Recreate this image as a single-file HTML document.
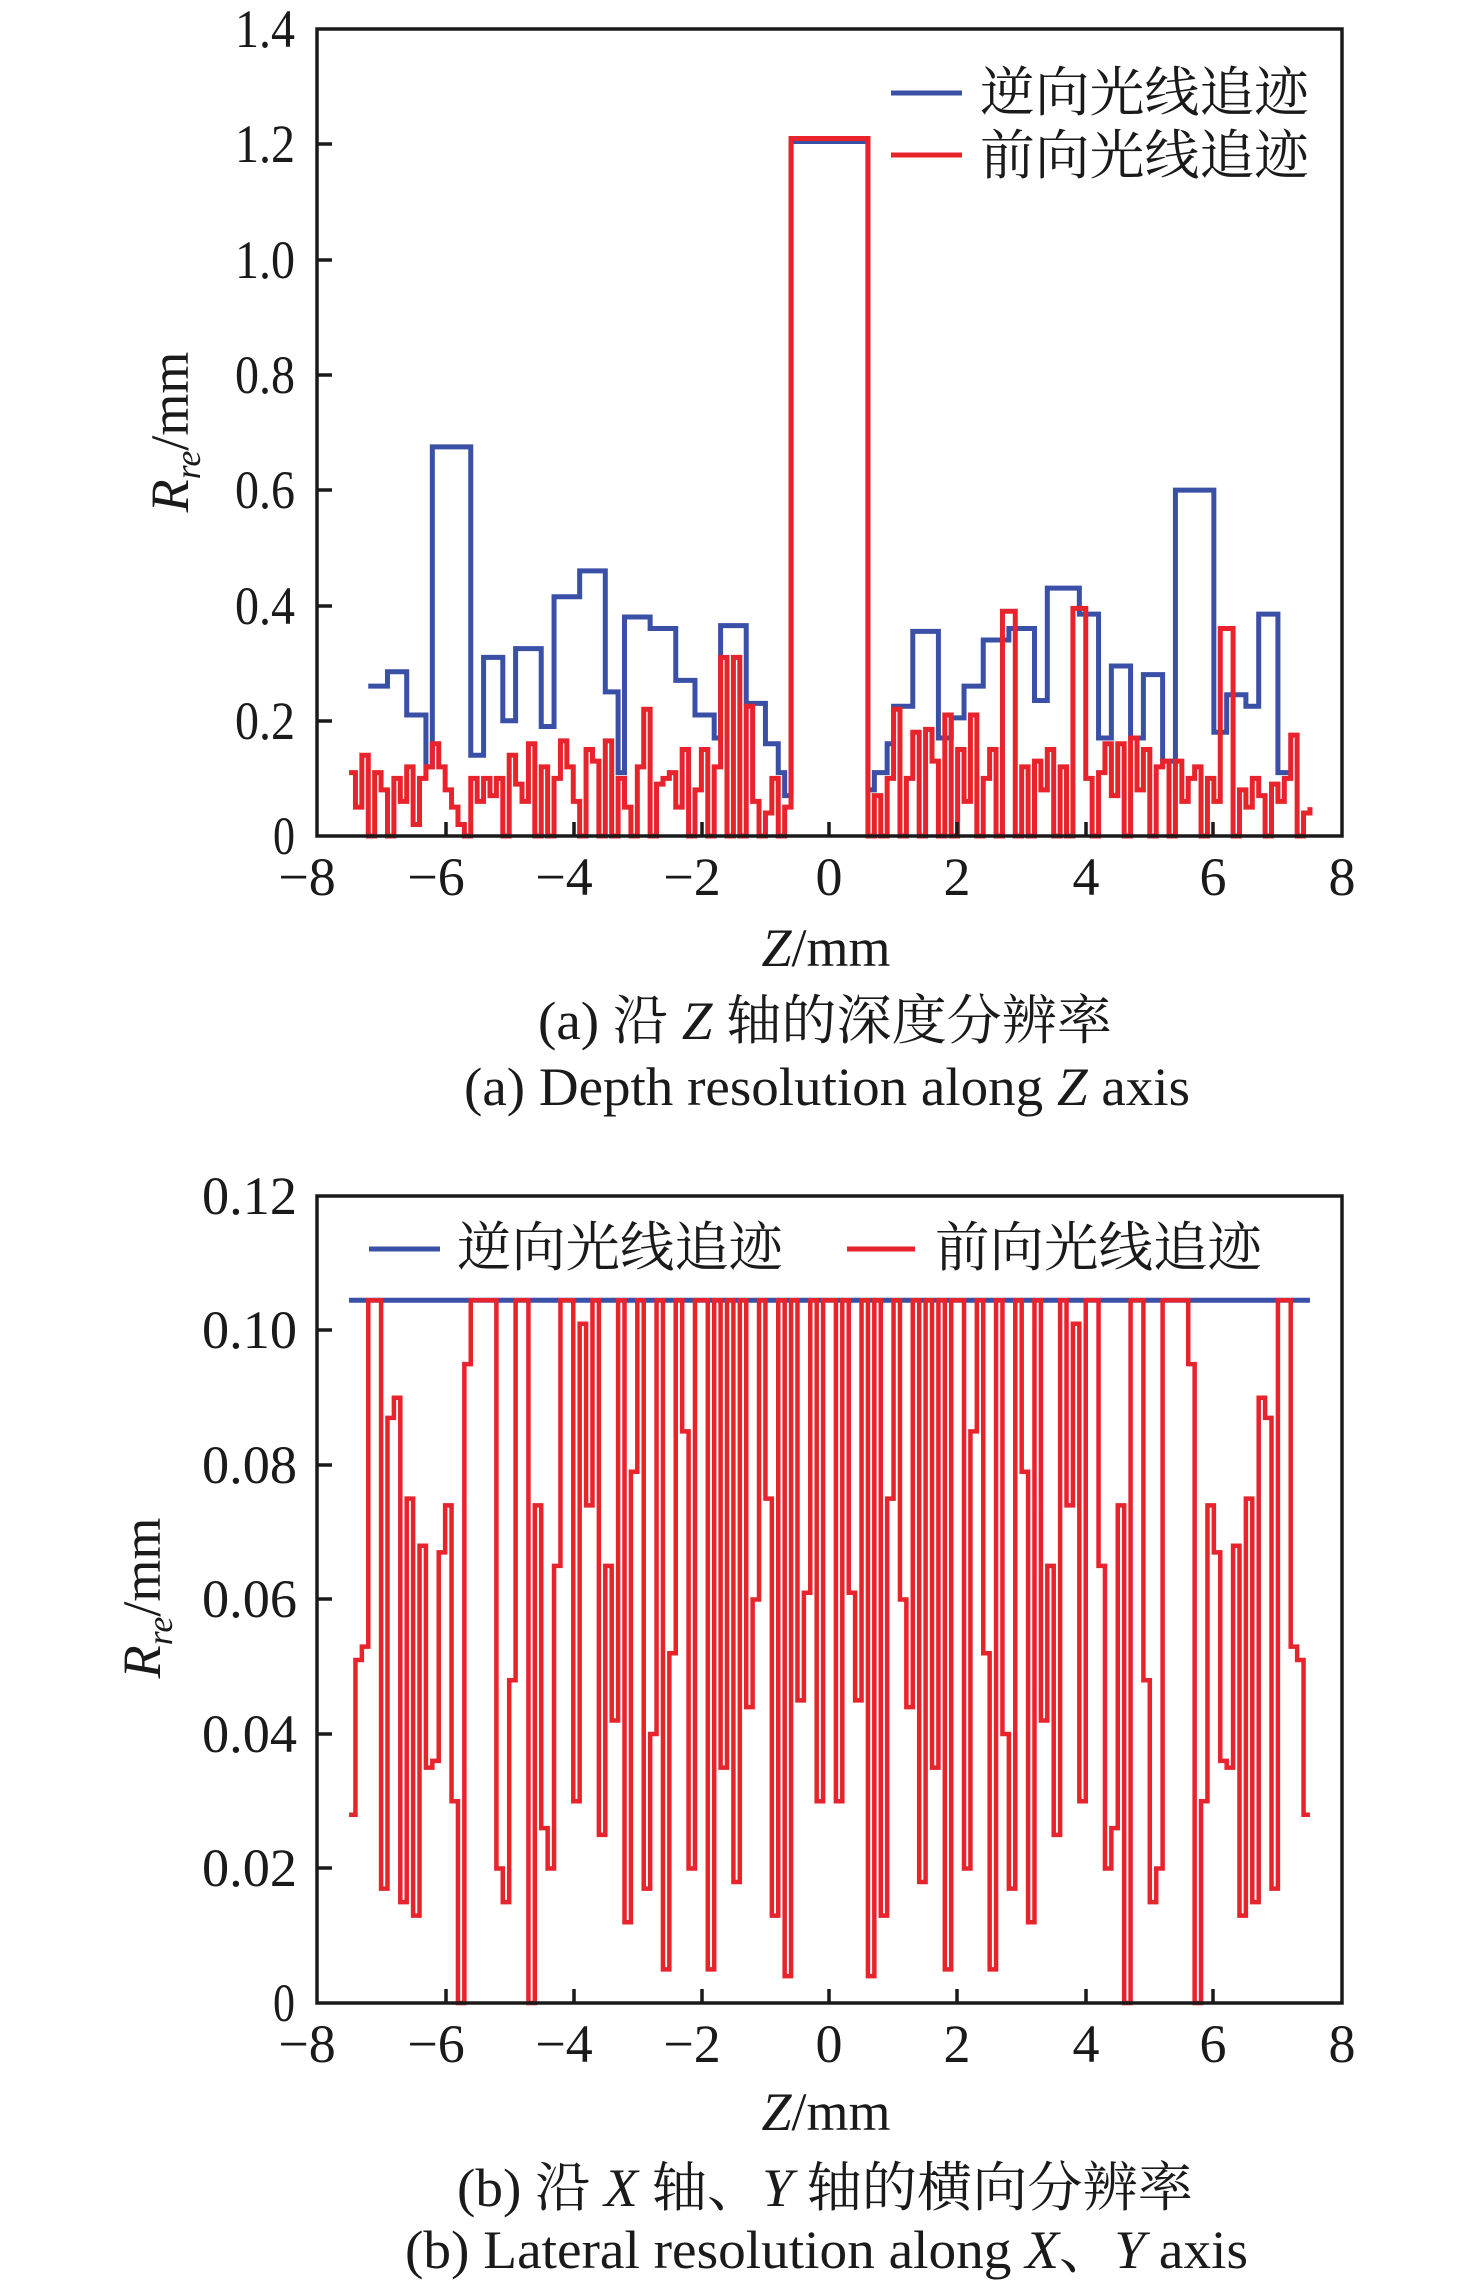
<!DOCTYPE html>
<html><head><meta charset="utf-8"><style>
html,body{margin:0;padding:0;background:#fff}
svg{display:block}
text{font-family:"Liberation Serif","Times New Roman","Noto Serif CJK SC","Noto Sans CJK SC",serif;fill:#1a1a1a}
</style></head><body>
<svg width="1476" height="2286" viewBox="0 0 1476 2286" xmlns="http://www.w3.org/2000/svg">
<!-- ============ Panel A ============ -->
<g font-size="54">
<g text-anchor="end">
<text x="295" y="854" textLength="22" lengthAdjust="spacingAndGlyphs">0</text>
<text x="295" y="739" textLength="60" lengthAdjust="spacingAndGlyphs">0.2</text>
<text x="295" y="624" textLength="60" lengthAdjust="spacingAndGlyphs">0.4</text>
<text x="295" y="508" textLength="60" lengthAdjust="spacingAndGlyphs">0.6</text>
<text x="295" y="393" textLength="60" lengthAdjust="spacingAndGlyphs">0.8</text>
<text x="295" y="278" textLength="60" lengthAdjust="spacingAndGlyphs">1.0</text>
<text x="295" y="162" textLength="60" lengthAdjust="spacingAndGlyphs">1.2</text>
<text x="295" y="47" textLength="60" lengthAdjust="spacingAndGlyphs">1.4</text>
</g>
<g text-anchor="middle">
<text x="307" y="895">−8</text><text x="436" y="895">−6</text><text x="564" y="895">−4</text><text x="692" y="895">−2</text>
<text x="829" y="895">0</text><text x="957" y="895">2</text><text x="1086" y="895">4</text><text x="1213" y="895">6</text><text x="1342" y="895">8</text>
</g>
<text x="826" y="966" text-anchor="middle"><tspan font-style="italic">Z</tspan>/mm</text>
<text transform="translate(188,432) rotate(-90)" text-anchor="middle"><tspan font-style="italic">R</tspan><tspan font-style="italic" font-size="36" dy="12">re</tspan><tspan dy="-12">/mm</tspan></text>
<text x="538" y="1039" textLength="574" lengthAdjust="spacingAndGlyphs">(a) 沿 <tspan font-style="italic">Z</tspan> 轴的深度分辨率</text>
<text x="464" y="1105" textLength="726" lengthAdjust="spacingAndGlyphs">(a) Depth resolution along <tspan font-style="italic">Z</tspan> axis</text>
<text x="980" y="111" textLength="329" lengthAdjust="spacingAndGlyphs">逆向光线追迹</text>
<text x="980" y="174" textLength="329" lengthAdjust="spacingAndGlyphs">前向光线追迹</text>
</g>
<line x1="891" y1="93" x2="962" y2="93" stroke="#3a4fa6" stroke-width="5"/>
<line x1="891" y1="155" x2="962" y2="155" stroke="#e8232c" stroke-width="5"/>
<g transform="translate(829.5,836) scale(64.06,-576.4)" fill="none" stroke-linejoin="miter">
<path vector-effect="non-scaling-stroke" stroke="#3a4fa6" stroke-width="5" d="M-7.2 .26H-6.9V.285H-6.6V.21H-6.3V.12H-6.2V.675H-5.6V.14H-5.4V.31H-5.1V.2H-4.9V.325H-4.5V.19H-4.3V.415H-3.9V.46H-3.5V.25H-3.3V.11H-3.2V.38H-2.8V.36H-2.4V.27H-2.1V.21H-1.8V.17H-1.7V.365H-1.3V.23H-1.0V.16H-.8V.11H-.7V.07H-.6V1.205H.6V.08H.7V.11H.9V.16H1.0V.225H1.3V.355H1.7V.17H1.9V.205H2.1V.26H2.4V.34H2.8V.36H3.2V.235H3.4V.43H3.9V.385H4.2V.17H4.4V.295H4.7V.17H4.9V.28H5.2V.13H5.4V.6H6.0V.18H6.2V.245H6.5V.225H6.7V.385H7.0V.11H7.2"/>
<path vector-effect="non-scaling-stroke" stroke="#e8232c" stroke-width="5" d="M-7.5 .11H-7.4V.05H-7.3V.14H-7.2V0H-7.1V.11H-7.0V.08H-6.9V0H-6.8V.1H-6.7V.06H-6.6V.12H-6.5V.02H-6.4V.1H-6.3V.12H-6.2V.16H-6.1V.12H-6.0V.08H-5.9V.05H-5.8V.02H-5.7V0H-5.6V.1H-5.5V.06H-5.4V.1H-5.3V.07H-5.2V.1H-5.1V0H-5.0V.14H-4.9V.09H-4.8V.06H-4.7V.16H-4.6V0H-4.5V.12H-4.4V0H-4.3V.1H-4.2V.165H-4.1V.12H-4.0V.06H-3.9V0H-3.8V.15H-3.7V.13H-3.6V0H-3.5V.165H-3.4V0H-3.3V.1H-3.2V.05H-3.1V0H-3.0V.12H-2.9V.22H-2.8V0H-2.7V.09H-2.6V.1H-2.5V.11H-2.4V.05H-2.3V.15H-2.2V0H-2.1V.08H-2.0V.15H-1.9V0H-1.8V.12H-1.7V.31H-1.6V0H-1.5V.31H-1.4V0H-1.3V.225H-1.2V.06H-1.1V0H-1.0V.04H-.9V.1H-.8V0H-.7V.05H-.6V1.21H.6V0H.7V.07H.8V0H.9V.1H1.0V.22H1.1V0H1.2V.1H1.3V.18H1.4V0H1.5V.185H1.6V.13H1.7V0H1.8V.21H1.9V0H2.0V.15H2.1V.06H2.2V.21H2.3V0H2.4V.1H2.5V.15H2.6V0H2.7V.39H2.9V0H3.0V.12H3.1V0H3.2V.13H3.3V.08H3.4V.15H3.5V0H3.6V.12H3.7V0H3.8V.395H4.0V.1H4.1V0H4.2V.11H4.3V.16H4.4V.07H4.5V.16H4.6V0H4.7V.17H4.8V.08H4.9V.15H5.0V0H5.1V.12H5.2V.13H5.3V0H5.4V.13H5.5V.06H5.6V.1H5.7V.12H5.8V0H5.9V.1H6.0V.06H6.1V.36H6.3V0H6.4V.08H6.5V.05H6.6V.1H6.7V.07H6.8V0H6.9V.09H7.0V.06H7.1V.1H7.2V.175H7.3V0H7.4V.04H7.5V.05"/>
</g>
<g stroke="#1a1a1a" stroke-width="3.5" fill="none">
<rect x="317" y="29" width="1025" height="807"/>
<path d="M317 721h15M317 606h15M317 490h15M317 375h15M317 260h15M317 144h15M446 836v-14M574 836v-14M702 836v-14M829 836v-14M957 836v-14M1086 836v-14M1213 836v-14"/>
</g>

<!-- ============ Panel B ============ -->
<g font-size="54">
<g text-anchor="end">
<text x="295" y="2021" textLength="22" lengthAdjust="spacingAndGlyphs">0</text>
<text x="297" y="1886" textLength="95" lengthAdjust="spacingAndGlyphs">0.02</text>
<text x="297" y="1752" textLength="95" lengthAdjust="spacingAndGlyphs">0.04</text>
<text x="297" y="1617" textLength="95" lengthAdjust="spacingAndGlyphs">0.06</text>
<text x="297" y="1483" textLength="95" lengthAdjust="spacingAndGlyphs">0.08</text>
<text x="297" y="1348" textLength="95" lengthAdjust="spacingAndGlyphs">0.10</text>
<text x="297" y="1214" textLength="95" lengthAdjust="spacingAndGlyphs">0.12</text>
</g>
<g text-anchor="middle">
<text x="307" y="2062">−8</text><text x="436" y="2062">−6</text><text x="564" y="2062">−4</text><text x="692" y="2062">−2</text>
<text x="829" y="2062">0</text><text x="957" y="2062">2</text><text x="1086" y="2062">4</text><text x="1213" y="2062">6</text><text x="1342" y="2062">8</text>
</g>
<text x="826" y="2130" text-anchor="middle"><tspan font-style="italic">Z</tspan>/mm</text>
<text transform="translate(160,1598) rotate(-90)" text-anchor="middle"><tspan font-style="italic">R</tspan><tspan font-style="italic" font-size="36" dy="12">re</tspan><tspan dy="-12">/mm</tspan></text>
<text x="457" y="2206" textLength="736" lengthAdjust="spacingAndGlyphs">(b) 沿 <tspan font-style="italic">X</tspan> 轴、<tspan font-style="italic">Y</tspan> 轴的横向分辨率</text>
<text x="405" y="2268" textLength="843" lengthAdjust="spacingAndGlyphs">(b) Lateral resolution along <tspan font-style="italic">X</tspan>、<tspan font-style="italic">Y</tspan> axis</text>
<text x="457" y="1266" textLength="326" lengthAdjust="spacingAndGlyphs">逆向光线追迹</text>
<text x="935" y="1266" textLength="327" lengthAdjust="spacingAndGlyphs">前向光线追迹</text>
</g>
<line x1="369" y1="1249" x2="440" y2="1249" stroke="#3a4fa6" stroke-width="5"/>
<line x1="847" y1="1249" x2="915" y2="1249" stroke="#e8232c" stroke-width="5"/>
<g transform="translate(829.5,2003) scale(64.06,-6725)" fill="none">
<path vector-effect="non-scaling-stroke" stroke="#3a4fa6" stroke-width="5" d="M-7.5 .1045H7.5"/>
<path id="hb" vector-effect="non-scaling-stroke" stroke="#e8232c" stroke-width="4.5" d="M-7.5 .028H-7.4V.051H-7.3V.053H-7.2V.1045H-7.0V.017H-6.9V.087H-6.8V.09H-6.7V.015H-6.6V.075H-6.5V.013H-6.4V.068H-6.3V.035H-6.2V.036H-6.1V.067H-6.0V.074H-5.9V.03H-5.8V0H-5.7V.095H-5.6V.1045H-5.2V.02H-5.1V.015H-5.0V.048H-4.9V.1045H-4.7V0H-4.6V.074H-4.5V.026H-4.4V.02H-4.3V.065H-4.2V.1045H-4.0V.03H-3.9V.101H-3.8V.074H-3.7V.1045H-3.6V.025H-3.5V.065H-3.4V.042H-3.3V.1045H-3.2V.012H-3.1V.079H-3.0V.1045H-2.9V.017H-2.8V.04H-2.7V.1045H-2.6V.005H-2.5V.052H-2.4V.1045H-2.3V.085H-2.2V.02H-2.1V.1045H-1.9V.005H-1.8V.1045H-1.7V.035H-1.6V.1045H-1.5V.018H-1.4V.1045H-1.3V.044H-1.2V.06H-1.1V.1045H-1.0V.075H-.9V.013H-.8V.1045H-.7V.004H-.6V.1045H-.5V.045H-.4V.061H-.3V.1045H-.2V.03H-.1V.1045H0"/>
<use href="#hb" transform="scale(-1,1)"/>
</g>
<g stroke="#1a1a1a" stroke-width="3.5" fill="none">
<rect x="317" y="1196" width="1025" height="807"/>
<path d="M317 1868h15M317 1734h15M317 1599h15M317 1465h15M317 1330h15M446 2003v-14M574 2003v-14M702 2003v-14M829 2003v-14M957 2003v-14M1086 2003v-14M1213 2003v-14"/>
</g>
</svg>
</body></html>
